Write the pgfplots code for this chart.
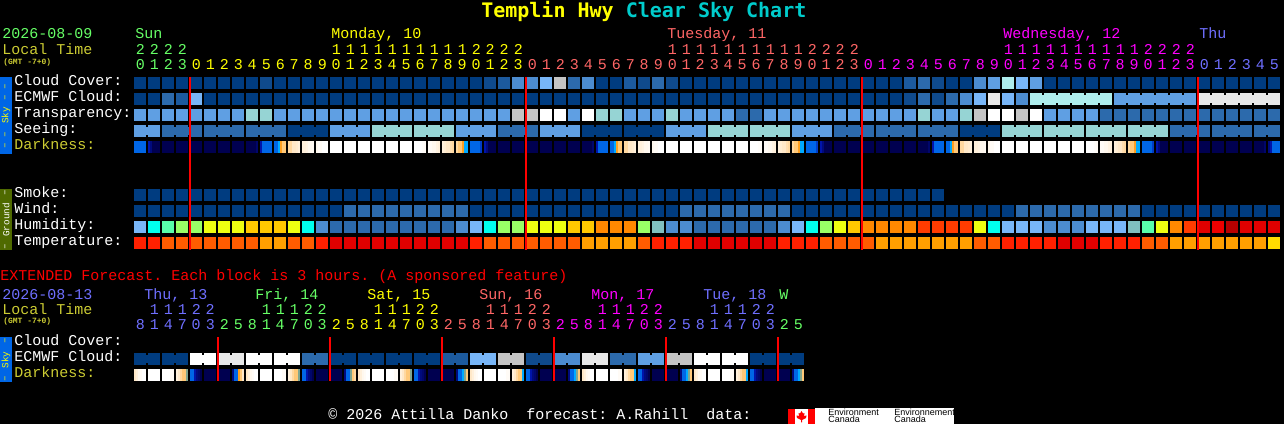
\documentclass[border=0pt]{standalone}
\usepackage{fontspec}
\usepackage{pgfplots}
\usepackage{pgfplotstable}
\pgfplotsset{compat=1.18}
\setmainfont{Liberation Mono}
\newfontfamily\titlefont{DejaVu Sans Mono}
\newfontfamily\flagfont{Liberation Sans}

% cell colours, blues first
\definecolor{c0}{HTML}{003C80}
\definecolor{c1}{HTML}{0F4A8C}
\definecolor{c2}{HTML}{1C5A9E}
\definecolor{c3}{HTML}{2C6AAC}
\definecolor{c4}{HTML}{4C8CD0}
\definecolor{c5}{HTML}{5F9FE3}
\definecolor{c6}{HTML}{78B6F8}
\definecolor{c7}{HTML}{96D4D4}
\definecolor{c8}{HTML}{C4C4C4}
\definecolor{c9}{HTML}{E8E8E8}
\definecolor{c10}{HTML}{FFFFFF}
\definecolor{c11}{HTML}{AEEDED}
\definecolor{c12}{HTML}{00FFEE}
\definecolor{c13}{HTML}{58FFAA}
\definecolor{c14}{HTML}{99FF66}
\definecolor{c15}{HTML}{EEFF11}
\definecolor{c16}{HTML}{FFC800}
\definecolor{c17}{HTML}{FF8800}
\definecolor{c18}{HTML}{FF3C00}
\definecolor{c19}{HTML}{E00000}
\definecolor{c20}{HTML}{EE0000}
\definecolor{c21}{HTML}{B80000}
\definecolor{c22}{HTML}{80BFBF}
\definecolor{c23}{HTML}{FF2000}
\definecolor{c24}{HTML}{FF5C00}
\definecolor{c25}{HTML}{FF9F00}
\definecolor{c26}{HTML}{FFDC00}
% text colours
\definecolor{tgreen}{HTML}{66FF66}
\definecolor{tyellow}{HTML}{FFFF00}
\definecolor{tsalmon}{HTML}{FF6666}
\definecolor{tmag}{HTML}{FF00FF}
\definecolor{tblue}{HTML}{6F6FFF}
\definecolor{tolive}{HTML}{CCCC33}
\definecolor{tcyan}{HTML}{00CCCC}
\definecolor{skybar}{HTML}{0066E6}
\definecolor{gndbar}{HTML}{4F6A00}

% 1 px = 0.75 pt
\pgfdeclareplotmark{cell}{\pgfpathrectangle{\pgfpoint{-4.5pt}{-4.5pt}}{\pgfpoint{9pt}{9pt}}\pgfusepathqfill}
\pgfdeclareplotmark{link}{\pgfpathrectangle{\pgfpoint{-0.9pt}{-3pt}}{\pgfpoint{1.8pt}{6pt}}\pgfusepathqfill}
\pgfdeclareplotmark{slice}{\pgfpathrectangle{\pgfpoint{-0.8pt}{-4.5pt}}{\pgfpoint{1.6pt}{9pt}}\pgfusepathqfill}

\pgfplotsset{
  colormap={dark}{rgb255(0)=(0,0,80) rgb255(1)=(0,20,170) rgb255(2)=(0,102,230)
    rgb255(3)=(0,170,255) rgb255(4)=(255,160,32) rgb255(5)=(255,200,120)
    rgb255(6)=(255,232,200) rgb255(7)=(255,248,238) rgb255(8)=(255,255,255)},
  cls/.style={only marks, scatter, scatter src=explicit symbolic, mark=cell,
    scatter/classes={
      0={fill=c0},1={fill=c1},2={fill=c2},3={fill=c3},4={fill=c4},5={fill=c5},
      6={fill=c6},7={fill=c7},8={fill=c8},9={fill=c9},10={fill=c10},11={fill=c11},
      12={fill=c12},13={fill=c13},14={fill=c14},15={fill=c15},16={fill=c16},
      17={fill=c17},18={fill=c18},19={fill=c19},20={fill=c20},21={fill=c21},
      22={fill=c22},23={fill=c23},24={fill=c24},25={fill=c25},26={fill=c26}}},
  drk/.style={only marks, scatter, scatter src=explicit, mark=slice,
    scatter/use mapped color={fill=mapped color}},
  redbar/.style={color=red, line width=1.5pt, no markers},
  pixelaxis/.style={
    at={(0,0)}, anchor=south west,
    scale only axis,
    width=963pt,
    height=318pt,
    xmin=-10, xmax=81.7142857,
    ymin=0, ymax=424,
    y dir=reverse,
    hide axis}
}

% hour column, then one colour level per row of the chart
\pgfplotstableread{
h cc ec tr se sm wi hu te
0 0 0 5 5 0 0 6 23
1 0 0 5 5 0 0 12 23
2 0 3 5 3 0 0 13 24
3 0 2 5 3 0 0 14 24
4 0 6 5 3 0 0 14 24
5 0 0 5 3 0 0 15 24
6 0 0 5 3 0 0 15 24
7 0 0 5 3 0 0 15 24
8 0 0 7 3 0 0 16 24
9 1 0 7 3 0 0 16 25
10 0 0 5 3 0 0 16 25
11 0 0 5 0 0 0 15 24
12 0 0 5 0 0 0 12 24
13 0 0 5 0 0 0 4 23
14 0 0 5 5 0 0 3 19
15 0 0 5 5 0 3 3 19
16 0 0 5 5 0 3 3 19
17 0 0 5 7 0 3 3 19
18 0 0 5 7 0 3 3 19
19 0 0 5 7 0 3 3 19
20 0 0 5 7 0 3 3 19
21 0 0 5 7 0 3 3 19
22 0 0 5 7 0 3 3 19
23 0 0 5 5 0 3 4 19
24 0 0 5 5 0 0 6 23
25 1 0 5 5 0 0 12 24
26 2 0 5 3 0 0 14 24
27 4 0 8 3 0 0 14 24
28 4 0 8 3 0 0 15 24
29 6 0 10 5 0 0 15 24
30 8 0 10 5 0 0 15 24
31 3 0 5 5 0 0 16 24
32 4 0 10 0 0 0 16 25
33 0 0 7 0 0 0 17 25
34 0 0 7 0 0 0 17 25
35 2 0 5 0 0 0 17 25
36 1 0 5 0 0 0 14 24
37 3 0 5 0 0 0 22 23
38 1 0 7 5 0 0 4 23
39 0 0 5 5 0 3 4 23
40 0 0 5 5 0 3 3 19
41 0 0 5 7 0 3 3 19
42 0 0 5 7 0 3 3 19
43 0 0 3 7 0 3 3 19
44 0 0 3 7 0 3 3 19
45 0 0 5 7 0 3 3 19
46 0 0 5 7 0 3 4 23
47 0 0 5 5 0 0 6 23
48 0 0 5 5 0 0 12 23
49 0 0 5 5 0 0 14 24
50 0 0 5 3 0 0 15 24
51 0 0 5 3 0 0 16 24
52 0 0 5 3 0 0 17 24
53 0 0 5 3 0 0 17 25
54 0 0 5 3 0 0 17 25
55 2 1 5 3 0 0 17 25
56 3 3 7 3 0 0 18 25
57 1 1 5 3 0 0 18 25
58 0 3 5 3 nan 0 18 25
59 0 4 7 0 nan 0 18 25
60 4 6 8 0 nan 0 15 24
61 5 9 10 0 nan 0 12 24
62 11 6 10 7 nan 0 6 23
63 6 4 8 7 nan 3 6 23
64 5 11 10 7 nan 3 6 23
65 0 11 5 7 nan 3 4 23
66 0 11 5 7 nan 3 4 19
67 0 11 5 7 nan 3 4 19
68 0 11 5 7 nan 3 6 19
69 0 11 3 7 nan 3 6 23
70 0 5 3 7 nan 3 6 23
71 0 5 3 7 nan 3 22 23
72 0 5 3 7 nan 0 13 24
73 0 5 3 7 nan 0 15 24
74 0 5 3 3 nan 0 17 25
75 0 5 3 3 nan 0 18 25
76 0 9 3 3 nan 0 19 25
77 0 9 3 3 nan 0 20 25
78 0 9 3 3 nan 0 21 25
79 0 9 3 3 nan 0 19 25
80 0 9 3 3 nan 0 19 25
81 0 9 3 3 nan 0 19 26
}\hourly

% darkness, six slices per hour block
\pgfplotstableread{
h s1 s2 s3 s4 s5 s6
0 2 2 2 2 2 2
1 1 .5 0 0 0 0
2 0 0 0 0 0 0
3 0 0 0 0 0 0
4 0 0 0 0 0 0
5 0 0 0 0 0 0
6 0 0 0 0 0 0
7 0 0 0 0 0 0
8 0 0 0 0 0 .3
9 1 2 2 2 2 2
10 2 2 3 4 5 5
11 5.5 5.5 6 6 6.2 6.5
12 6.5 6.5 6.7 7 7 7.3
13 7 7.5 7.5 8 8 8
14 8 8 8 8 8 8
15 8 8 8 8 8 8
16 8 8 8 8 8 8
17 8 8 8 8 8 8
18 8 8 8 8 8 8
19 8 8 8 8 8 8
20 8 8 8 8 7.7 7.5
21 7.5 7.5 7 7 6.7 6.5
22 6.5 6.3 6 6 5.7 5.5
23 5.5 5 5 4 3 3
24 2 2 2 2 2 1.5
25 1 .5 0 0 0 0
26 0 0 0 0 0 0
27 0 0 0 0 0 0
28 0 0 0 0 0 0
29 0 0 0 0 0 0
30 0 0 0 0 0 0
31 0 0 0 0 0 0
32 0 0 0 0 0 .3
33 1 2 2 2 2 2
34 2 2 3 4 5 5
35 5.5 5.5 6 6 6.2 6.5
36 6.5 6.5 6.7 7 7 7.3
37 7 7.5 7.5 8 8 8
38 8 8 8 8 8 8
39 8 8 8 8 8 8
40 8 8 8 8 8 8
41 8 8 8 8 8 8
42 8 8 8 8 8 8
43 8 8 8 8 8 8
44 8 8 8 8 7.7 7.5
45 7.5 7.5 7 7 6.7 6.5
46 6.5 6.3 6 6 5.7 5.5
47 5.5 5 5 4 3 3
48 2 2 2 2 2 1.5
49 1 .5 0 0 0 0
50 0 0 0 0 0 0
51 0 0 0 0 0 0
52 0 0 0 0 0 0
53 0 0 0 0 0 0
54 0 0 0 0 0 0
55 0 0 0 0 0 0
56 0 0 0 0 0 .3
57 1 2 2 2 2 2
58 2 2 3 4 5 5
59 5.5 5.5 6 6 6.2 6.5
60 6.5 6.5 6.7 7 7 7.3
61 7 7.5 7.5 8 8 8
62 8 8 8 8 8 8
63 8 8 8 8 8 8
64 8 8 8 8 8 8
65 8 8 8 8 8 8
66 8 8 8 8 8 8
67 8 8 8 8 8 8
68 8 8 8 8 7.7 7.5
69 7.5 7.5 7 7 6.7 6.5
70 6.5 6.3 6 6 5.7 5.5
71 5.5 5 5 4 3 3
72 2 2 2 2 2 1.5
73 1 .5 0 0 0 0
74 0 0 0 0 0 0
75 0 0 0 0 0 0
76 0 0 0 0 0 0
77 0 0 0 0 0 0
78 0 0 0 0 0 0
79 0 0 0 0 0 0
80 0 0 0 0 0 .3
81 .5 1 2 2 2 2
}\darktop

% extended forecast
\pgfplotstableread{
h ec s1 s2 s3 s4 s5 s6
0 0 6 6.5 7 7.5 8 8
1 0 8 8 8 8 8 8
2 0 8 8 8 8 7.5 7.5
3 0 6.5 6 5.5 5 5 3.5
4 10 2 2 1 .5 .3 0
5 10 0 0 0 0 0 0
6 9 0 0 0 0 0 0
7 9 .5 2 2 4 5 6
8 10 6 6.5 7 7.5 8 8
9 10 8 8 8 8 8 8
10 10 8 8 8 8 7.5 7.5
11 10 6.5 6 5.5 5 5 3.5
12 3 2 2 1 .5 .3 0
13 3 0 0 0 0 0 0
14 0 0 0 0 0 0 0
15 0 .5 2 2 3.5 5 5.5
16 0 6 6.5 7 7.5 8 8
17 0 8 8 8 8 8 8
18 0 8 8 8 8 7.5 7.5
19 0 6.5 6 5.5 5 5 3.5
20 0 2 2 1 .5 .3 0
21 0 0 0 0 0 0 0
22 2 0 0 0 0 0 0
23 2 .5 2 2 3 3.5 5
24 6 6 6.5 7 7.5 8 8
25 6 8 8 8 8 8 8
26 8 8 8 8 8 7.5 7.5
27 8 6.5 6 5.5 5 5 3
28 1 2 2 1 .5 .3 0
29 1 0 0 0 0 0 0
30 4 0 0 0 0 0 0
31 4 .5 2 2 3 3.5 5
32 9 6 6.5 7 7.5 8 8
33 9 8 8 8 8 8 8
34 3 8 8 8 8 7.5 7.5
35 3 6.5 6 5.5 5 5 3
36 5 2 2 1 .5 .3 0
37 5 0 0 0 0 0 0
38 8 0 0 0 0 0 0
39 8 .5 2 2 3 3.5 5
40 10 6 6.5 7 7.5 8 8
41 10 8 8 8 8 8 8
42 10 8 8 8 8 7.5 7.5
43 10 6.5 6 5.5 5 5 3
44 0 2 2 1 .5 .3 0
45 0 0 0 0 0 0 0
46 0 0 0 0 0 0 0
47 0 .5 2 2 3 3.5 5
}\extended

% joins between blocks of the same model step
\pgfplotstableread{
h y c
0.5 131 5
2.5 131 3
3.5 131 3
5.5 131 3
6.5 131 3
8.5 131 3
9.5 131 3
11.5 131 0
12.5 131 0
14.5 131 5
15.5 131 5
17.5 131 7
18.5 131 7
20.5 131 7
21.5 131 7
23.5 131 5
24.5 131 5
26.5 131 3
27.5 131 3
29.5 131 5
30.5 131 5
32.5 131 0
33.5 131 0
35.5 131 0
36.5 131 0
38.5 131 5
39.5 131 5
41.5 131 7
42.5 131 7
44.5 131 7
45.5 131 7
47.5 131 5
48.5 131 5
50.5 131 3
51.5 131 3
53.5 131 3
54.5 131 3
56.5 131 3
57.5 131 3
59.5 131 0
60.5 131 0
62.5 131 7
63.5 131 7
65.5 131 7
66.5 131 7
68.5 131 7
69.5 131 7
71.5 131 7
72.5 131 7
74.5 131 3
75.5 131 3
77.5 131 3
78.5 131 3
80.5 131 3
64.5 99 11
65.5 99 11
66.5 99 11
67.5 99 11
68.5 99 11
70.5 99 5
71.5 99 5
72.5 99 5
73.5 99 5
74.5 99 5
76.5 99 9
77.5 99 9
78.5 99 9
79.5 99 9
80.5 99 9
0.5 359 0
2.5 359 0
4.5 359 10
6.5 359 9
8.5 359 10
10.5 359 10
12.5 359 3
14.5 359 0
16.5 359 0
18.5 359 0
20.5 359 0
22.5 359 2
24.5 359 6
26.5 359 8
28.5 359 1
30.5 359 4
32.5 359 9
34.5 359 3
36.5 359 5
38.5 359 8
40.5 359 10
42.5 359 10
44.5 359 0
46.5 359 0
}\joins

% x = hour block, y = pixel row from the top
\newcommand\darkrow[2]{%
  \addplot[drk] table[x expr=\thisrow{h}-0.357, y expr=#2, meta=s1] {#1};
  \addplot[drk] table[x expr=\thisrow{h}-0.214, y expr=#2, meta=s2] {#1};
  \addplot[drk] table[x expr=\thisrow{h}-0.071, y expr=#2, meta=s3] {#1};
  \addplot[drk] table[x expr=\thisrow{h}+0.071, y expr=#2, meta=s4] {#1};
  \addplot[drk] table[x expr=\thisrow{h}+0.214, y expr=#2, meta=s5] {#1};
  \addplot[drk] table[x expr=\thisrow{h}+0.357, y expr=#2, meta=s6] {#1};
}

% text helpers, all in picture pixels
\newcommand\ft{\fontsize{11.25}{13}\selectfont\frenchspacing}
\def\dg#1{\ifx#1\relax\else\makebox[10.5pt][c]{#1}\expandafter\dg\fi}
\newcommand\txt[4]{\node[anchor=base west, inner sep=0pt, text=#3] at (#1,#2) {\ft #4};}
\newcommand\digits[4]{\node[anchor=base west, inner sep=0pt, text=#3] at (#1,#2) {\ft\dg #4\relax};}
\newcommand\gmt[2]{\node[anchor=base west, inner sep=0pt, text=tolive] at (#1,#2) {\fontsize{6}{7}\selectfont\bfseries (GMT -7+0)};}
\newcommand\bartxt[4]{\node[rotate=90, inner sep=0pt, text=#3] at (#1,#2) {\fontsize{7}{8}\selectfont #4};}

\begin{document}
\begin{tikzpicture}
\path[use as bounding box, fill=black] (0,0) rectangle (963pt,318pt);
\begin{axis}[
    pixelaxis,
    colormap name=dark,
    point meta min=0, point meta max=8
]
\addplot[cls] table[x=h, y expr=83, meta=cc] {\hourly};
\addplot[cls] table[x=h, y expr=99, meta=ec] {\hourly};
\addplot[cls] table[x=h, y expr=115, meta=tr] {\hourly};
\addplot[cls] table[x=h, y expr=131, meta=se] {\hourly};
\darkrow{\darktop}{147}
\addplot[cls, restrict x to domain=0:57] table[x=h, y expr=195, meta=sm] {\hourly};
\addplot[cls] table[x=h, y expr=211, meta=wi] {\hourly};
\addplot[cls] table[x=h, y expr=227, meta=hu] {\hourly};
\addplot[cls] table[x=h, y expr=243, meta=te] {\hourly};
\addplot[cls] table[x=h, y expr=359, meta=ec] {\extended};
\darkrow{\extended}{375}
\addplot[cls, mark=link] table[x=h, y=y, meta=c] {\joins};
\end{axis}

% midnight lines, own axis so they lie over the blocks
\begin{axis}[pixelaxis]
\addplot[redbar] coordinates {(3.5714,77) (3.5714,250)};
\addplot[redbar] coordinates {(27.5714,77) (27.5714,250)};
\addplot[redbar] coordinates {(51.5714,77) (51.5714,250)};
\addplot[redbar] coordinates {(75.5714,77) (75.5714,250)};
\addplot[redbar] coordinates {(5.5714,337) (5.5714,381)};
\addplot[redbar] coordinates {(13.5714,337) (13.5714,381)};
\addplot[redbar] coordinates {(21.5714,337) (21.5714,381)};
\addplot[redbar] coordinates {(29.5714,337) (29.5714,381)};
\addplot[redbar] coordinates {(37.5714,337) (37.5714,381)};
\addplot[redbar] coordinates {(45.5714,337) (45.5714,381)};
\end{axis}

\begin{scope}[x=0.75pt, y=-0.75pt, yshift=318pt]
% title
\node[anchor=base west, inner sep=0pt] at (481,18) {\titlefont\fontsize{15}{17}\selectfont\bfseries
  \textcolor{tyellow}{Templin Hwy} \textcolor{tcyan}{Clear Sky Chart}};
% top header
\txt{2}{39}{tgreen}{2026-08-09}
\txt{2}{55}{tolive}{Local Time}
\gmt{3}{65}
\txt{135}{39}{tgreen}{Sun}
\txt{331}{39}{tyellow}{Monday, 10}
\txt{667}{39}{tsalmon}{Tuesday, 11}
\txt{1003}{39}{tmag}{Wednesday, 12}
\txt{1199}{39}{tblue}{Thu}
\digits{133}{55}{tgreen}{2222}
\digits{329}{55}{tyellow}{11111111112222}
\digits{665}{55}{tsalmon}{11111111112222}
\digits{1001}{55}{tmag}{11111111112222}
\digits{133}{70}{tgreen}{0123}
\digits{189}{70}{tyellow}{012345678901234567890123}
\digits{525}{70}{tsalmon}{012345678901234567890123}
\digits{861}{70}{tmag}{012345678901234567890123}
\digits{1197}{70}{tblue}{012345}
% row labels
\txt{14}{86}{white}{Cloud Cover:}
\txt{14}{102}{white}{ECMWF Cloud:}
\txt{14}{118}{white}{Transparency:}
\txt{14}{134}{white}{Seeing:}
\txt{14}{150}{tolive}{Darkness:}
\txt{14}{198}{white}{Smoke:}
\txt{14}{214}{white}{Wind:}
\txt{14}{230}{white}{Humidity:}
\txt{14}{246}{white}{Temperature:}
% extended header
\txt{0}{281}{red}{EXTENDED Forecast. Each block is 3 hours. (A sponsored feature)}
\txt{2}{300}{tblue}{2026-08-13}
\txt{2}{315}{tolive}{Local Time}
\gmt{3}{324}
\txt{144}{300}{tblue}{Thu, 13}
\txt{255}{300}{tgreen}{Fri, 14}
\txt{367}{300}{tyellow}{Sat, 15}
\txt{479}{300}{tsalmon}{Sun, 16}
\txt{591}{300}{tmag}{Mon, 17}
\txt{703}{300}{tblue}{Tue, 18}
\txt{779}{300}{tgreen}{W}
\digits{147}{315}{tblue}{11122}
\digits{259}{315}{tgreen}{11122}
\digits{371}{315}{tyellow}{11122}
\digits{483}{315}{tsalmon}{11122}
\digits{595}{315}{tmag}{11122}
\digits{707}{315}{tblue}{11122}
\digits{133}{330}{tblue}{814703}
\digits{217}{330}{tgreen}{25814703}
\digits{329}{330}{tyellow}{25814703}
\digits{441}{330}{tsalmon}{25814703}
\digits{553}{330}{tmag}{25814703}
\digits{665}{330}{tblue}{25814703}
\digits{777}{330}{tgreen}{25}
\txt{14}{346}{white}{Cloud Cover:}
\txt{14}{362}{white}{ECMWF Cloud:}
\txt{14}{378}{tolive}{Darkness:}
% side bars
\fill[skybar] (0,77) rectangle (12,154);
\fill[gndbar] (0,189) rectangle (12,250);
\fill[skybar] (0,337) rectangle (12,382);
\bartxt{6}{92}{tyellow}{– –}
\bartxt{6}{115.5}{tyellow}{Sky}
\bartxt{6}{140}{tyellow}{– –}
\bartxt{6}{193}{white}{–}
\bartxt{6}{220}{white}{Ground}
\bartxt{6}{247}{white}{–}
\bartxt{6}{341}{tyellow}{–}
\bartxt{6}{360}{tyellow}{Sky}
\bartxt{6}{379}{tyellow}{–}
% footer
\txt{328}{420}{white}{© 2026 Attilla Danko\ \ forecast: A.Rahill\ \ data:}
\fill[red] (788,409) rectangle (815,424);
\fill[white] (795,409) rectangle (808,424);
\fill[white] (815,408) rectangle (954,424);
\fill[red] (801.5,411) -- (803,413.5) -- (804.5,413) -- (804,416) -- (806.5,415.5) -- (806,418) -- (802,420) -- (802,422.5) -- (801,422.5) -- (801,420) -- (797,418) -- (796.5,415.5) -- (799,416) -- (798.5,413) -- (800,413.5) -- cycle;
\node[anchor=base west, inner sep=0pt, text=black] at (828,416) {\flagfont\fontsize{6.75}{7}\selectfont Environment};
\node[anchor=base west, inner sep=0pt, text=black] at (828,423) {\flagfont\fontsize{6.75}{7}\selectfont Canada};
\node[anchor=base west, inner sep=0pt, text=black] at (894,416) {\flagfont\fontsize{6.75}{7}\selectfont Environnement};
\node[anchor=base west, inner sep=0pt, text=black] at (894,423) {\flagfont\fontsize{6.75}{7}\selectfont Canada};
\end{scope}
\end{tikzpicture}
\end{document}
